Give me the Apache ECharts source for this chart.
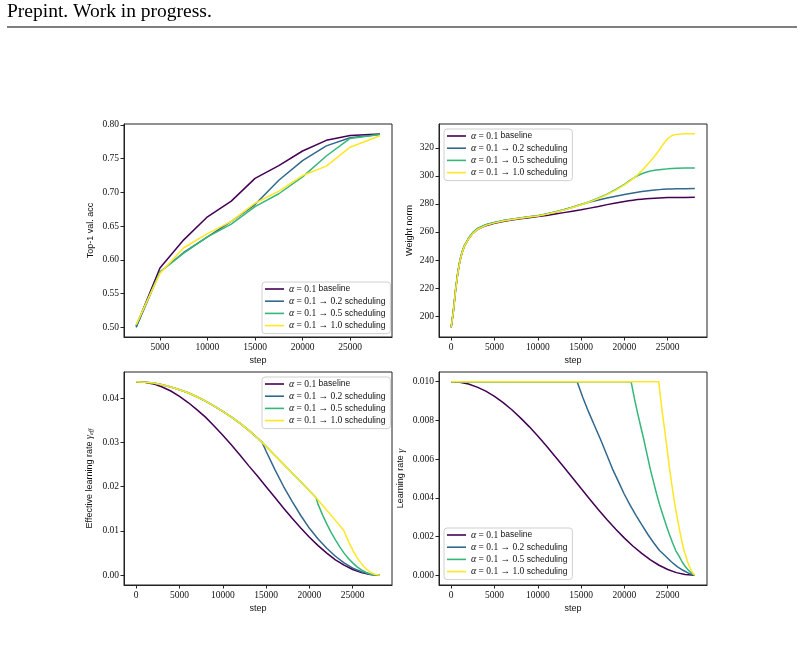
<!DOCTYPE html>
<html><head><meta charset="utf-8">
<script src="https://cdn.jsdelivr.net/npm/echarts@6/dist/echarts.min.js"></script>
<style>html,body{margin:0;padding:0;background:#fff}#c{width:804px;height:647px}</style>
</head><body><div id="c"></div>
<script>
// ---------- names / legend ----------
const seriesNames = ['α = 0.1 baseline','α = 0.1 → 0.2 scheduling','α = 0.1 → 0.5 scheduling','α = 0.1 → 1.0 scheduling'];
const legendParts = [['α',' = 0.1 ','baseline'],['α',' = 0.1 → 0.2 ','scheduling'],['α',' = 0.1 → 0.5 ','scheduling'],['α',' = 0.1 → 1.0 ','scheduling']];
const colors = ['#440154','#31688e','#35b779','#fde725'];

// ---------- tick labels ----------
const accXTicks = [5000,10000,15000,20000,25000];
const stepTicks = [0,5000,10000,15000,20000,25000];
const accYTicks = [0.50,0.55,0.60,0.65,0.70,0.75,0.80];
const wnYTicks = [200,220,240,260,280,300,320];
const effYTicks = [0,0.01,0.02,0.03,0.04];
const lrYTicks = [0,0.002,0.004,0.006,0.008,0.010];

// ---------- Top-1 val. acc ----------
const accSteps = [2500,5000,7500,10000,12500,15000,17500,20000,22500,25000,28125];
const accBase  = [0.5015,0.588,0.6297,0.6639,0.6871,0.7208,0.7396,0.7614,0.7772,0.7842,0.7866];
const accS02   = [0.500,0.582,0.611,0.634,0.657,0.682,0.718,0.747,0.769,0.781,0.786];
const accS05   = [0.503,0.582,0.610,0.634,0.653,0.679,0.698,0.723,0.754,0.780,0.786];
const accS10   = [0.504,0.580,0.618,0.639,0.657,0.684,0.702,0.725,0.739,0.767,0.784];

// ---------- Weight norm ----------
const wnSteps = [0,250,500,750,1000,1250,1500,2000,2500,3000,4000,5000,6000,7000,8000,9000,10000,11000,12000,13000,14000,15000,16000,17000,18000,19000,20000,20500,21000,21500,22000,22500,23000,23500,24000,24500,25000,25500,26000,27000,28125];
const wnBase = [192,203,218,230,239,245,249.5,255,259,261.7,264.5,266.2,267.5,268.5,269.4,270.2,271.0,271.8,272.8,273.8,274.8,275.8,277.0,278.2,279.5,280.7,281.8,282.3,282.7,283.1,283.4,283.7,283.9,284.1,284.25,284.4,284.5,284.55,284.6,284.65,284.7];
const wnS02 = [192,203.5,218.5,230.5,239.5,245.5,250,255.5,259.5,262.3,265.2,266.8,268.1,269.1,270.0,270.8,271.6,272.8,274.2,275.8,277.6,279.6,281.3,282.8,284.2,285.5,286.7,287.3,287.8,288.3,288.8,289.2,289.6,289.9,290.2,290.4,290.6,290.7,290.8,290.9,291.0];
const wnS05 = [192,203.5,218.5,230.5,239.5,245.5,250,255.5,259.5,262.3,265.2,266.8,268.1,269.1,270.0,270.8,271.6,272.8,274.2,275.8,277.6,279.6,281.8,284.3,287.0,290.3,294.0,296.2,298.3,300.1,301.5,302.6,303.5,304.0,304.4,304.7,305.0,305.2,305.4,305.6,305.7];
const wnS10 = [192,203,218,230,239,245,249.5,255,259,261.8,264.7,266.5,267.9,268.9,269.8,270.6,271.4,272.6,274.0,275.6,277.4,279.4,281.5,283.9,286.6,289.9,293.6,295.8,298.0,300.7,303.6,307.0,310.5,314.2,318.3,322.8,326.6,328.8,329.6,330.0,330.1];

// ---------- Effective learning rate ----------
const effBaseSteps = [0,1000,2000,3000,4000,5000,6000,7000,8000,9000,10000,11000,12000,13000,14000,15000,16000,17000,18000,19000,20000,21000,22000,23000,24000,25000,26000,27000,28125];
const effBase = [0.0437,0.0436,0.0432,0.0425,0.0416,0.0404,0.0390,0.0374,0.0357,0.0337,0.0316,0.0294,0.0271,0.0247,0.0224,0.0200,0.0176,0.0152,0.0129,0.0107,0.0086,0.0067,0.0050,0.0035,0.0023,0.0013,0.0006,0.00017,0];
const effUpSteps = [0,1000,2000,3000,4000,5000,6000,7000,8000,9000,10000,11000,12000,13000,14000,14540];
const effUpVals  = [0.0437,0.0436,0.0434,0.0430,0.0425,0.0419,0.0412,0.0403,0.0393,0.0382,0.0370,0.0357,0.0343,0.0327,0.0310,0.0300];
const effMidSteps = [15000,16000,17000,18000,19000,20000,20770];
const effMidVals  = [0.0291,0.0271,0.0251,0.0231,0.0211,0.0191,0.01752];
const effLateSteps = [21000,22000,23000,23960];
const effLateVals  = [0.0170,0.0147,0.0124,0.0101];
const effS02TailSteps = [15000,16000,17000,18000,19000,20000,21000,22000,23000,24000,25000,26000,27000,28125];
const effS02TailVals  = [0.0280,0.0239,0.0201,0.0167,0.0135,0.0106,0.0082,0.0061,0.0043,0.0028,0.0016,0.0008,0.00025,0];
const effS05TailSteps = [21000,21500,22000,22500,23000,23500,24000,24500,25000,25500,26000,26500,27000,27500,28125];
const effS05TailVals  = [0.0160,0.0137,0.0116,0.0097,0.0080,0.0064,0.0050,0.0038,0.0028,0.0019,0.0012,0.0007,0.0003,0.0001,0];
const effS10TailSteps = [24500,25000,25500,26000,26500,27000,27500,28125];
const effS10TailVals  = [0.00765,0.00569,0.0040,0.00263,0.00154,0.00074,0.00023,0];

// ---------- Learning rate ----------
const lrBaseSteps = [0,1000,2000,3000,4000,5000,6000,7000,8000,9000,10000,11000,12000,13000,14000,15000,16000,17000,18000,19000,20000,21000,22000,23000,24000,25000,26000,27000,28125];
const lrBase = [0.01000,0.00997,0.00988,0.00972,0.00951,0.00924,0.00892,0.00855,0.00813,0.00768,0.00719,0.00668,0.00614,0.00559,0.00504,0.00448,0.00393,0.00339,0.00287,0.00238,0.00192,0.00150,0.00113,0.00080,0.00052,0.00030,0.00014,0.00004,0];
const lrS02Steps = [0,14540,15219,15899,16578,17257,17936,18616,19295,19974,20653,21333,22012,22691,23370,24050,24729,25408,26087,26767,27446,28125];
const lrS02 = [0.01,0.01,0.00916,0.0084,0.0077,0.0070,0.00625,0.0055,0.00485,0.0042,0.00362,0.0031,0.0026,0.00212,0.00168,0.00128,0.0010,0.0007,0.00045,0.00026,0.0001,0];
const lrS05Steps = [0,20770,21138,21506,21873,22241,22609,22977,23344,23712,24080,24448,24815,25183,25551,25919,26286,26654,27022,27390,27757,28125];
const lrS05 = [0.01,0.01,0.00916,0.0084,0.0077,0.0070,0.00625,0.0055,0.00485,0.0042,0.00362,0.0031,0.0026,0.00212,0.00168,0.00128,0.0010,0.0007,0.00045,0.00026,0.0001,0];
const lrS10Steps = [0,23960,24168,24377,24585,24793,25001,25210,25418,25626,25834,26043,26251,26459,26667,26876,27084,27292,27501,27709,27917,28125];
const lrS10 = [0.01,0.01,0.00916,0.0084,0.0077,0.0070,0.00625,0.0055,0.00485,0.0042,0.00362,0.0031,0.0026,0.00212,0.00168,0.00128,0.0010,0.0007,0.00045,0.00026,0.0001,0];

// ---------- build ----------
function zip(xs, ys){ return xs.map((x,i)=>[x, ys[i]]); }
const chart = echarts.init(document.getElementById('c'), null, {renderer:'canvas'});

const serifF = '"Liberation Serif", "DejaVu Serif", serif';
const sansF = '"Liberation Sans", "DejaVu Sans", sans-serif';

const grids = [
  {left:124, top:124, width:268, height:213},
  {left:439, top:124, width:268, height:213},
  {left:124, top:372, width:268, height:213},
  {left:439, top:372, width:268, height:213}
].map(g => Object.assign({show:true, borderColor:'#222', borderWidth:1, backgroundColor:'transparent'}, g));

function xAx(i, min, max, ticks, withName){
  return {
    type:'value', gridIndex:i, min:min, max:max, position:'bottom',
    splitLine:{show:false}, axisLine:{show:true, onZero:false, lineStyle:{color:'#222', width:1}},
    axisTick:{show:true, inside:false, customValues:ticks, length:3.5, lineStyle:{color:'#222', width:1}},
    axisLabel:{customValues:ticks, formatter:v=>String(v), fontFamily:serifF, fontSize:9.5, color:'#111', margin:5},
    name: withName ? 'step' : '', nameLocation:'middle', nameGap:19,
    nameTextStyle:{fontFamily:sansF, fontSize:9, color:'#111'}
  };
}
function yAx(i, min, max, ticks, dec, name, gap, rich){
  return {
    type:'value', gridIndex:i, min:min, max:max, position:'left',
    splitLine:{show:false}, axisLine:{show:true, onZero:false, lineStyle:{color:'#222', width:1}},
    axisTick:{show:true, inside:false, customValues:ticks, length:3.5, lineStyle:{color:'#222', width:1}},
    axisLabel:{customValues:ticks, formatter:v=>v.toFixed(dec), fontFamily:serifF, fontSize:9.5, color:'#111', margin:5},
    name:name, nameLocation:'middle', nameGap:gap,
    nameTextStyle:{fontFamily:sansF, fontSize:9, color:'#111', rich:rich}
  };
}
const nameRich = {
  t:{fontFamily:sansF, fontSize:9, color:'#111'},
  g:{fontFamily:serifF, fontStyle:'italic', fontSize:10, color:'#111'},
  s:{fontFamily:serifF, fontStyle:'italic', fontSize:6.5, color:'#111', padding:[4,0,0,0]}
};

const xAxes = [
  xAx(0, 1219, 29406, accXTicks, true),
  xAx(1, -1406, 29531, stepTicks, true),
  xAx(2, -1406, 29531, stepTicks, true),
  xAx(3, -1406, 29531, stepTicks, true)
];
const yAxes = [
  yAx(0, 0.4857, 0.8014, accYTicks, 2, 'Top-1 val. acc', 29, nameRich),
  yAx(1, 185.1, 337.0, wnYTicks, 0, 'Weight norm', 25, nameRich),
  yAx(2, -0.00219, 0.04589, effYTicks, 2, '{t|Effective learning rate }{g|γ}{s|eff}', 29, nameRich),
  yAx(3, -0.0005, 0.0105, lrYTicks, 3, '{t|Learning rate }{g|γ}', 33, nameRich)
];

function legendAt(left, top){
  return {
    show:true, orient:'vertical', left:left, top:top, data:seriesNames,
    icon:'rect', itemWidth:19, itemHeight:1.6, itemGap:0.2, padding:[1,5,2,3],
    backgroundColor:'rgba(255,255,255,0.85)', borderColor:'#d0d0d0', borderWidth:1, borderRadius:3,
    formatter: name => { const p = legendParts[seriesNames.indexOf(name)]; return '{i|'+p[0]+'}{m|'+p[1]+'}{s|'+p[2]+'}'; },
    textStyle:{
      color:'#111', fontSize:9, lineHeight:12,
      rich:{
        i:{fontFamily:serifF, fontStyle:'italic', fontSize:10, color:'#111', lineHeight:12},
        m:{fontFamily:serifF, fontSize:9.5, color:'#111', lineHeight:12},
        s:{fontFamily:sansF, fontSize:8.5, color:'#111', lineHeight:12}
      }
    }
  };
}

const seriesDefs = [
  [0, [zip(accSteps,accBase), zip(accSteps,accS02), zip(accSteps,accS05), zip(accSteps,accS10)]],
  [1, [zip(wnSteps,wnBase), zip(wnSteps,wnS02), zip(wnSteps,wnS05), zip(wnSteps,wnS10)]],
  [2, [zip(effBaseSteps,effBase),
       zip(effUpSteps,effUpVals).concat(zip(effS02TailSteps,effS02TailVals)),
       zip(effUpSteps,effUpVals).concat(zip(effMidSteps,effMidVals), zip(effS05TailSteps,effS05TailVals)),
       zip(effUpSteps,effUpVals).concat(zip(effMidSteps,effMidVals), zip(effLateSteps,effLateVals), zip(effS10TailSteps,effS10TailVals))]],
  [3, [zip(lrBaseSteps,lrBase), zip(lrS02Steps,lrS02), zip(lrS05Steps,lrS05), zip(lrS10Steps,lrS10)]]
];
const series = [];
seriesDefs.forEach(([gi, datas]) => {
  datas.forEach((d, k) => {
    series.push({
      type:'line', name:seriesNames[k], xAxisIndex:gi, yAxisIndex:gi, data:d,
      showSymbol:false, symbol:'none', smooth:false, color:colors[k],
      itemStyle:{color:colors[k]},
      lineStyle:{color:colors[k], width:1.5}, z:2+k, silent:true
    });
  });
});

chart.setOption({
  animation:false,
  backgroundColor:'#fff',
  grid:grids, xAxis:xAxes, yAxis:yAxes,
  legend:[legendAt(262,282), legendAt(444,129), legendAt(262,377), legendAt(444,528)],
  series:series,
  graphic:[
    {type:'text', left:7, top:2, style:{text:'Prepint. Work in progress.', font:'19.5px "Liberation Serif"', fill:'#000'}},
    {type:'line', shape:{x1:7, y1:27, x2:797, y2:27}, style:{stroke:'#000', lineWidth:1.2}}
  ]
});
</script></body></html>
